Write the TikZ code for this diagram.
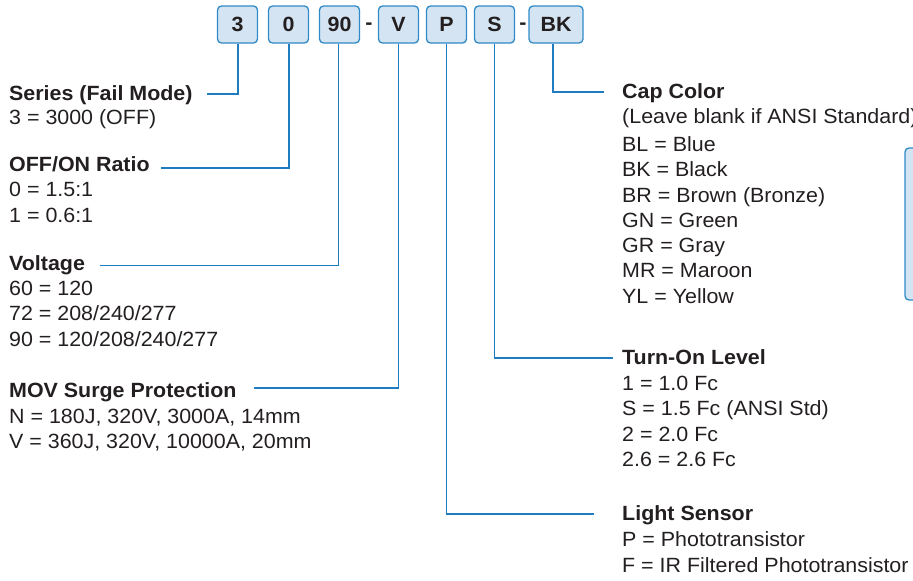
\documentclass[tikz,border=0pt]{standalone}
\usepackage{fontspec}
\setmainfont[FakeStretch=1.04]{Liberation Sans}
\definecolor{txt}{HTML}{231F20}
\definecolor{lineblue}{HTML}{1F7CC0}
\definecolor{boxfill}{HTML}{D4E4F2}
\definecolor{boxedge}{HTML}{2F8AC8}
\begin{document}
\begin{tikzpicture}[x=1pt,y=-1pt,
  codebox/.style={draw=boxedge, fill=boxfill, line width=1.3pt, rounded corners=4pt, minimum height=37pt, minimum width=40pt, inner sep=0pt, font=\fontsize{20.6}{24}\selectfont\bfseries, text=txt},
  dashmark/.style={inner sep=0pt, font=\fontsize{20.6}{24}\selectfont\bfseries, text=txt},
  hdr/.style={anchor=base west, inner sep=0pt, font=\fontsize{20.6}{24}\selectfont\bfseries, text=txt},
  itm/.style={anchor=base west, inner sep=0pt, font=\fontsize{20.6}{24}\selectfont, text=txt},
  conn/.style={draw=lineblue, line width=1.3pt},
]
\useasboundingbox (0,0) rectangle (913,581);

% code boxes
\node[codebox] (b3)  at (237.5,24.5) {3};
\node[codebox] (b0)  at (288.5,24.5) {0};
\node[codebox] (b90) at (339.5,24.5) {90};
\node[dashmark] (d1) at (369,26) {-};
\node[codebox] (bV)  at (398.5,24.5) {V};
\node[codebox] (bP)  at (446.5,24.5) {P};
\node[codebox] (bS)  at (494.5,24.5) {S};
\node[dashmark] (d2) at (523,26) {-};
\node[codebox, minimum width=54pt] (bBK) at (556,24.5) {BK};

% partial box at right edge
\draw[draw=boxedge, fill=boxfill, line width=1.3pt, rounded corners=4pt] (905,148) rectangle (940,300);

% left column
\node[hdr] (tSer) at (9,100) {Series (Fail Mode)};
\node[itm] (tSer1) at (9,124.5) {3 = 3000 (OFF)};

\node[hdr] (tOff) at (9,171) {OFF/ON Ratio};
\node[itm] (tOff1) at (9,196.5) {0 = 1.5:1};
\node[itm] (tOff2) at (9,222) {1 = 0.6:1};

\node[hdr] (tVol) at (9,270) {Voltage};
\node[itm] (tVol1) at (9,295) {60 = 120};
\node[itm] (tVol2) at (9,320.5) {72 = 208/240/277};
\node[itm] (tVol3) at (9,346) {90 = 120/208/240/277};

\node[hdr] (tMov) at (9,397.5) {MOV Surge Protection};
\node[itm] (tMov1) at (9,423) {N = 180J, 320V, 3000A, 14mm};
\node[itm] (tMov2) at (9,448.5) {V = 360J, 320V, 10000A, 20mm};

% right column
\node[hdr] (tCap) at (622,98) {Cap Color};
\node[itm] (tCap0) at (622,123) {(Leave blank if ANSI Standard)};
\node[itm] (tCap1) at (622,151.5) {BL = Blue};
\node[itm] (tCap2) at (622,176.7) {BK = Black};
\node[itm] (tCap3) at (622,202) {BR = Brown (Bronze)};
\node[itm] (tCap4) at (622,227) {GN = Green};
\node[itm] (tCap5) at (622,252.3) {GR = Gray};
\node[itm] (tCap6) at (622,277.5) {MR = Maroon};
\node[itm] (tCap7) at (622,303) {YL = Yellow};

\node[hdr] (tTurn) at (622,364.5) {Turn-On Level};
\node[itm] (tTurn1) at (622,390) {1 = 1.0 Fc};
\node[itm] (tTurn2) at (622,415.5) {S = 1.5 Fc (ANSI Std)};
\node[itm] (tTurn3) at (622,441) {2 = 2.0 Fc};
\node[itm] (tTurn4) at (622,466.5) {2.6 = 2.6 Fc};

\node[hdr] (tLig) at (622,520) {Light Sensor};
\node[itm] (tLig1) at (622,546.5) {P = Phototransistor};
\node[itm] (tLig2) at (622,572) {F = IR Filtered Phototransistor};

% connector ends
\coordinate (eSer) at (207,94);
\coordinate (eOff) at (161,168);
\coordinate (eVol) at (100,265.5);
\coordinate (eMov) at (254,388);
\coordinate (eCap) at (604,92);
\coordinate (eTurn) at (613,358);
\coordinate (eLig) at (594,514);
\coordinate (xBK) at (553,0);
\coordinate (x3) at (238,0);
\coordinate (x0) at (289,0);
\coordinate (x90) at (338.5,0);

% connectors
\draw[conn] (b3.south -| x3) |- (eSer);
\draw[conn] (b0.south -| x0) |- (eOff);
\draw[conn] (b90.south -| x90) |- (eVol);
\draw[conn] (bV.south) |- (eMov);
\draw[conn] (bP.south) |- (eLig);
\draw[conn] (bS.south) |- (eTurn);
\draw[conn] (bBK.south -| xBK) |- (eCap);
\end{tikzpicture}
\end{document}
